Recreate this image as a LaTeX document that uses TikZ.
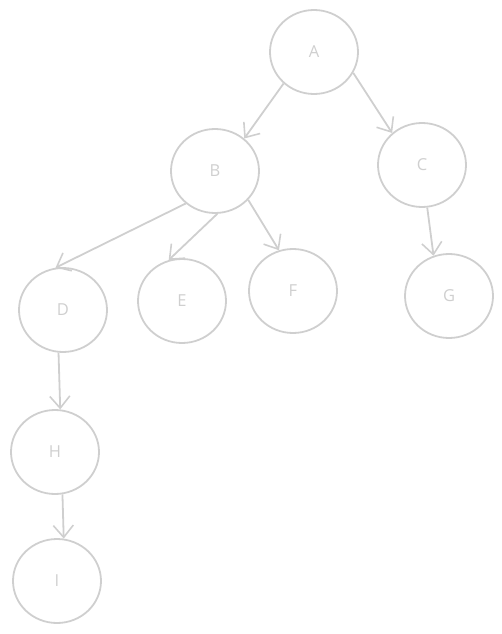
\documentclass[tikz,border=0pt]{standalone}
\usepackage{fontspec}
\setmainfont{Open Sans}
\usepackage{tikz}
\usetikzlibrary{shapes.geometric, arrows.meta}
\definecolor{sketchgray}{HTML}{CFCFCF}
\tikzstyle{treenode} = [ellipse, minimum width=88pt, minimum height=84pt, inner sep=0pt, draw=sketchgray, line width=1.8pt, text=sketchgray, font=\fontsize{16.5}{19}\selectfont]
\tikzstyle{arrow} = [draw=sketchgray, line width=1.8pt, -{Straight Barb[length=12pt,width=20pt,line width=1.6pt]}]

\begin{document}
\begin{tikzpicture}[x=1pt, y=-1pt]
	\useasboundingbox (0,0) rectangle (502,634);
	
	\node (a) [treenode] at (314,52) {A};
	
	\node (b) [treenode] at (215,171) {B};
	\node (c) [treenode] at (422,165) {C};
	\node (d) [treenode] at (63,310) {D};
	\node (e) [treenode] at (182,301) {E};
	\node (f) [treenode] at (293,291) {F};
	\node (g) [treenode] at (449,296) {G};
	\node (h) [treenode] at (55,452) {H};
	\node (i) [treenode] at (57,581) {I};
	
	\draw [arrow] (a.226) -- (b.48);
	\draw [arrow] (a.-28) -- (c.133);
	\draw [arrow] (b.228) -- (d.100);
	\draw [arrow] (b.-87) -- (e.108);
	\draw [arrow] (b.-41) -- (f.109);
	\draw [arrow] (c.-83) -- (g.111);
	\draw [arrow] (d.-96) -- (h.83);
	\draw [arrow] (h.-80) -- (i.81);
	\end{tikzpicture}
\end{document}
